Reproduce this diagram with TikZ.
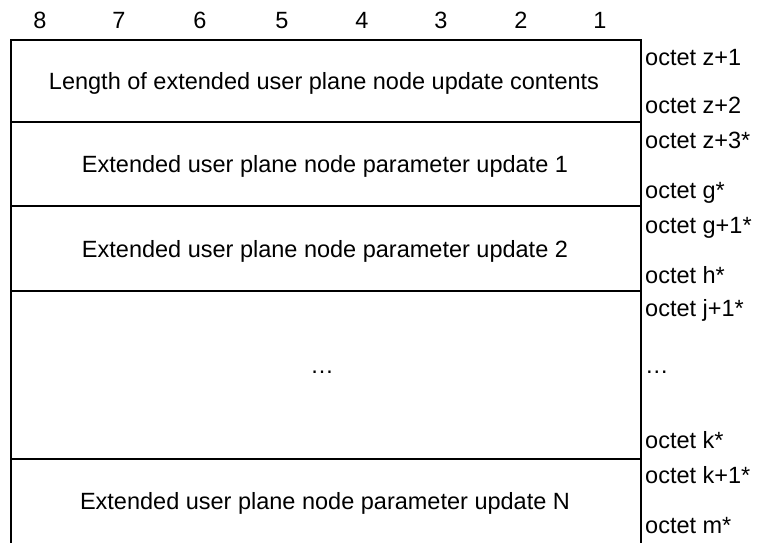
\documentclass[tikz,border=0pt]{standalone}
\usepackage{fontspec}
\setmainfont{Liberation Sans}
\usetikzlibrary{positioning}
\tikzset{
    frame/.style={draw, line width=1.8pt},
    field/.style={anchor=base, inner sep=0pt, font=\fontsize{23.5}{28}\selectfont},
    octet/.style={anchor=base west, inner sep=0pt, font=\fontsize{23.5}{28}\selectfont},
    bitno/.style={anchor=base, inner sep=0pt, font=\fontsize{23.5}{28}\selectfont}
}

\begin{document}
\begin{tikzpicture}[x=1pt, y=-1pt]
    \useasboundingbox (0,0) rectangle (757,543);

    % bit numbers
    \foreach \b/\x in {8/40, 7/119, 6/200, 5/282, 4/362, 3/441, 2/521, 1/600}
        \node[bitno] (bit\b) at (\x,28.5) {\b};

    % frame
    \coordinate (tl) at (11,40);
    \coordinate (tr) at (641,40);
    \coordinate (bl) at (11,543);
    \coordinate (br) at (641,543);
    \draw[frame] (bl) -- (tl) -- (tr) -- (br);
    \foreach \y in {122, 206, 291, 459}
        \draw[frame] (11,\y) -- (641,\y);

    % fields
    \node[field] (len) at (324,89.5) {Length of extended user plane node update contents};
    \node[field] (par1) at (325,172.5) {Extended user plane node parameter update 1};
    \node[field] (par2) at (325,257) {Extended user plane node parameter update 2};
    \node[field] (dots) at (322,373) {…};
    \node[field] (parN) at (325,509.5) {Extended user plane node parameter update N};

    % octets
    \node[octet] (oz1) at (645,65.5) {octet z+1};
    \node[octet] (oz2) at (645,113.5) {octet z+2};
    \node[octet] (oz3) at (645,148.5) {octet z+3*};
    \node[octet] (og) at (645,198.5) {octet g*};
    \node[octet] (og1) at (645,233.5) {octet g+1*};
    \node[octet] (oh) at (645,283.5) {octet h*};
    \node[octet] (oj1) at (645,316.5) {octet j+1*};
    \node[octet] (odots) at (645,373.5) {…};
    \node[octet] (ok) at (645,448.5) {octet k*};
    \node[octet] (ok1) at (645,483.5) {octet k+1*};
    \node[octet] (om) at (645,533.5) {octet m*};
\end{tikzpicture}
\end{document}
